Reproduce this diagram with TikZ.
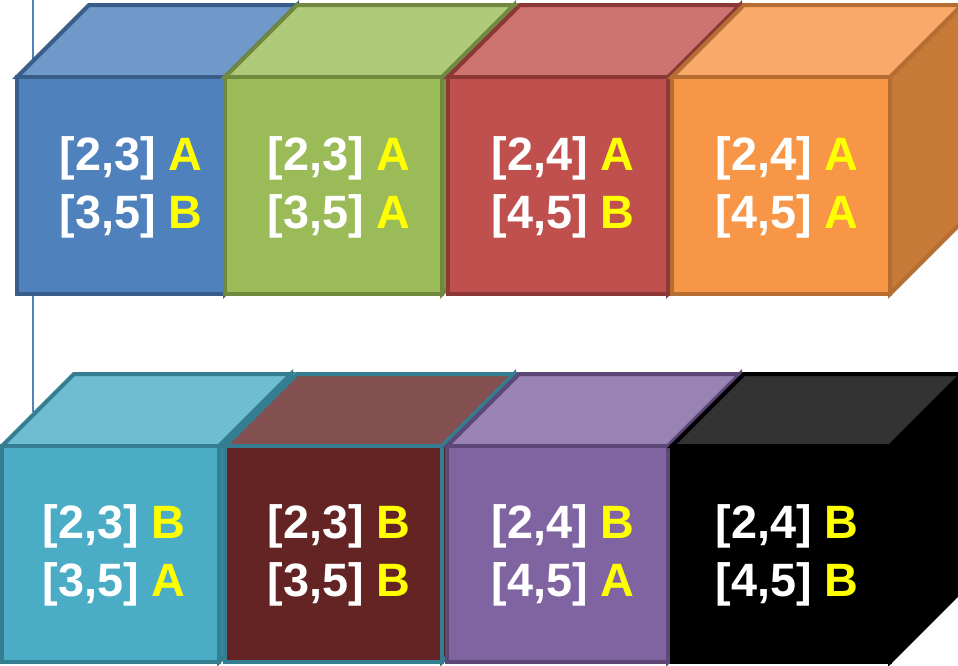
\documentclass[tikz,border=0pt]{standalone}
\usepackage{fontspec}
\setmainfont{Liberation Sans}
\usetikzlibrary{positioning}
\definecolor{sarga}{HTML}{FFFF00}
\definecolor{vonal}{HTML}{4F81BD}
\definecolor{kekE}{HTML}{4F81BD}\definecolor{kekT}{HTML}{7099CA}
\definecolor{kekS}{HTML}{3F6797}\definecolor{kekK}{HTML}{385D8A}
\definecolor{zoldE}{HTML}{9BBB59}\definecolor{zoldT}{HTML}{AFC97A}
\definecolor{zoldS}{HTML}{7D9747}\definecolor{zoldK}{HTML}{71893F}
\definecolor{pirosE}{HTML}{C0504D}\definecolor{pirosT}{HTML}{CD7371}
\definecolor{pirosS}{HTML}{9A403E}\definecolor{pirosK}{HTML}{8C3836}
\definecolor{narancsE}{HTML}{F79646}\definecolor{narancsT}{HTML}{F9AA6B}
\definecolor{narancsS}{HTML}{C77A37}\definecolor{narancsK}{HTML}{B66D31}
\definecolor{ciankE}{HTML}{4BACC6}\definecolor{ciankT}{HTML}{6FBDD1}
\definecolor{ciankS}{HTML}{3C8A9F}\definecolor{ciankK}{HTML}{357D91}
\definecolor{barnaE}{HTML}{632423}\definecolor{barnaT}{HTML}{82504F}
\definecolor{barnaS}{HTML}{4F1D1C}\definecolor{barnaK}{HTML}{357D91}
\definecolor{lilaE}{HTML}{8064A2}\definecolor{lilaT}{HTML}{9983B5}
\definecolor{lilaS}{HTML}{665082}\definecolor{lilaK}{HTML}{5C4776}
\definecolor{feketeE}{HTML}{000000}\definecolor{feketeT}{HTML}{333333}
\definecolor{feketeS}{HTML}{000000}\definecolor{feketeK}{HTML}{000000}
\tikzset{
  lap/.style={line width=2pt,line join=miter},
  felirat/.style={text=white,font=\fontsize{23.4}{29}\selectfont\bfseries,inner sep=0pt,anchor=base},
}
% #1 bal x, #2 felso y, #3 szelesseg, #4 magassag, #5 szin
\newcommand{\kocka}[5]{%
  \filldraw[lap,fill=#5S,draw=#5K] ({#1+#3},#2) -- ++(72,-72) -- ++(0,#4) -- ++(-72,72) -- cycle;
  \filldraw[lap,fill=#5T,draw=#5K] (#1,#2) -- ++(72,-72) -- ++(#3,0) -- ++(-72,72) -- cycle;
  \filldraw[lap,fill=#5E,draw=#5K] (#1,#2) rectangle ++(#3,#4);
}

\begin{document}
\begin{tikzpicture}[x=0.5pt,y=-0.5pt]
  \useasboundingbox (0,0) rectangle (958,665);
  \clip (0,0) rectangle (958,665);
  \draw[vonal,line width=0.8pt] (33,0) -- (33,412);
  % felso sor
  \kocka{17}{77}{208}{217}{kek}
  \kocka{225}{77}{217}{217}{zold}
  \kocka{448}{77}{220}{217}{piros}
  \kocka{672}{77}{218}{217}{narancs}
  \node[felirat] (f1a) at (131,170) {[2,3] \textcolor{sarga}{A}};
  \node[felirat] (f1b) at (131,228) {[3,5] \textcolor{sarga}{B}};
  \node[felirat] (f2a) at (339,170) {[2,3] \textcolor{sarga}{A}};
  \node[felirat] (f2b) at (339,228) {[3,5] \textcolor{sarga}{A}};
  \node[felirat] (f3a) at (563,170) {[2,4] \textcolor{sarga}{A}};
  \node[felirat] (f3b) at (563,228) {[4,5] \textcolor{sarga}{B}};
  \node[felirat] (f4a) at (787,170) {[2,4] \textcolor{sarga}{A}};
  \node[felirat] (f4b) at (787,228) {[4,5] \textcolor{sarga}{A}};
  % also sor
  \kocka{2}{446}{217}{216}{ciank}
  \kocka{225}{446}{217}{216}{barna}
  \kocka{447}{446}{221}{216}{lila}
  \kocka{672}{446}{218}{216}{fekete}
  \node[felirat] (a1a) at (114,538) {[2,3] \textcolor{sarga}{B}};
  \node[felirat] (a1b) at (114,596) {[3,5] \textcolor{sarga}{A}};
  \node[felirat] (a2a) at (339,538) {[2,3] \textcolor{sarga}{B}};
  \node[felirat] (a2b) at (339,596) {[3,5] \textcolor{sarga}{B}};
  \node[felirat] (a3a) at (563,538) {[2,4] \textcolor{sarga}{B}};
  \node[felirat] (a3b) at (563,596) {[4,5] \textcolor{sarga}{A}};
  \node[felirat] (a4a) at (787,538) {[2,4] \textcolor{sarga}{B}};
  \node[felirat] (a4b) at (787,596) {[4,5] \textcolor{sarga}{B}};
\end{tikzpicture}
\end{document}
